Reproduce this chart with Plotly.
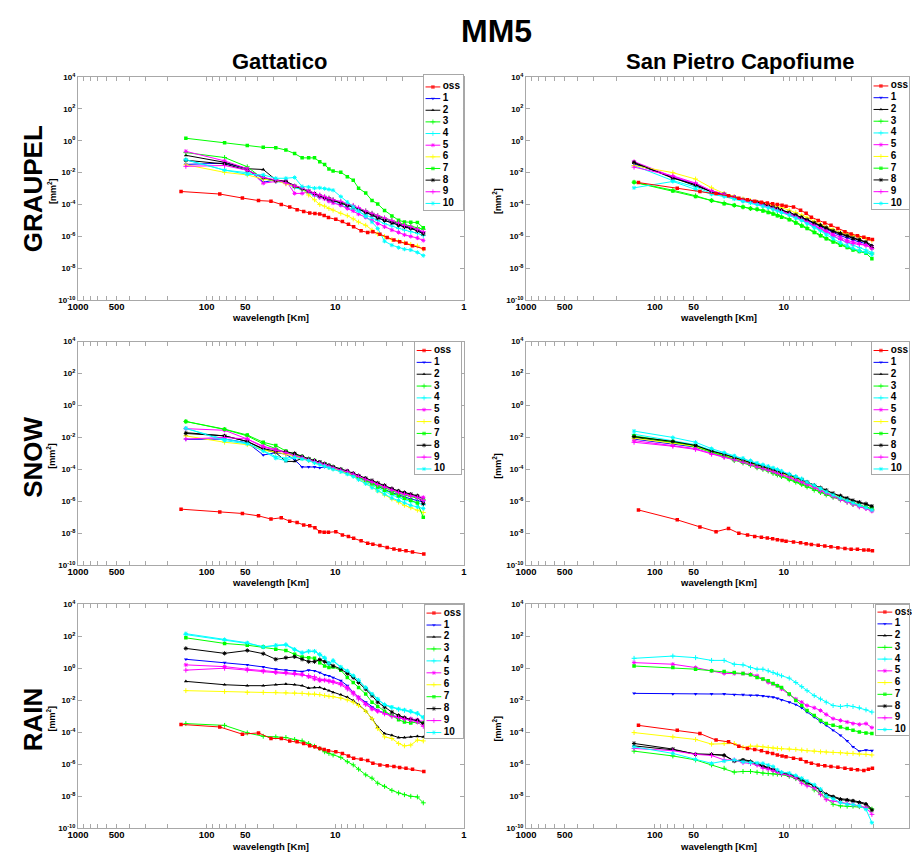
import plotly.graph_objects as go

# ---------------------------------------------------------------- series style
SERIES = ["oss", "1", "2", "3", "4", "5", "6", "7", "8", "9", "10"]
COLORS = ["#ff0000", "#0000ff", "#000000", "#00ff00", "#00ffff", "#ff00ff",
          "#ffff00", "#00ff00", "#000000", "#ff00ff", "#00ffff"]
SYMBOLS = ["square", "triangle-down", "triangle-up", "cross-thin-open", "cross-thin-open",
           "asterisk-open", "cross-thin-open", "square", "asterisk-open", "cross-thin-open",
           "asterisk-open"]

# ---------------------------------------------------------------- wavelengths [km]
WL_MODEL = [145, 72.5, 48.3, 36.3, 29.0, 24.2, 20.7, 18.1, 16.1, 14.5, 13.2, 12.1, 11.2, 10.4,
            9.06, 8.06, 7.25, 6.59, 5.80, 5.18, 4.68, 4.14, 3.63, 3.22, 2.90, 2.59, 2.30, 2.07]
WL_OSS_GATTATICO = [158, 79, 52.7, 39.5, 31.6, 26.3, 22.6, 19.8, 17.6, 15.8, 14.4, 13.2, 12.2, 11.3,
                    9.9, 8.8, 7.9, 7.2, 6.3, 5.6, 5.1, 4.5, 3.95, 3.5, 3.16, 2.82, 2.51, 2.05]
WL_OSS_SANPIETRO = [134, 67, 44.7, 33.5, 26.8, 22.3, 19.1, 16.8, 14.9, 13.4, 12.2, 11.2, 10.3, 9.6,
                    8.4, 7.4, 6.7, 6.1, 5.4, 4.8, 4.3, 3.8, 3.35, 3.0, 2.68, 2.39, 2.2, 2.05]

# ---------------------------------------------------------------- log10 power [mm^2]
GRAUPEL_GATTATICO = {
    "oss": [-3.18, -3.34, -3.59, -3.75, -3.79, -4.00, -4.16, -4.33, -4.43, -4.53, -4.56, -4.60, -4.68, -4.82,
            -4.93, -5.07, -5.24, -5.40, -5.65, -5.75, -5.71, -5.86, -6.06, -6.23, -6.33, -6.43, -6.58, -6.78],
    "1": [-1.48, -1.40, -1.75, -2.60, -2.45, -2.60, -2.90, -3.05, -3.25, -3.40, -3.50, -3.60, -3.70, -3.75,
          -3.90, -4.05, -4.15, -4.30, -4.50, -4.65, -4.85, -5.00, -5.15, -5.30, -5.40, -5.50, -5.60, -5.80],
    "2": [-0.91, -1.35, -1.75, -1.80, -2.45, -2.55, -2.80, -3.00, -3.20, -3.35, -3.45, -3.55, -3.65, -3.75,
          -3.85, -4.00, -4.10, -4.25, -4.45, -4.60, -4.75, -4.90, -5.05, -5.20, -5.30, -5.45, -5.55, -5.75],
    "3": [-0.74, -1.05, -1.63, -2.40, -2.50, -2.60, -2.85, -3.05, -3.20, -3.35, -3.45, -3.55, -3.60, -3.70,
          -3.85, -4.00, -4.10, -4.25, -4.40, -4.55, -4.70, -4.85, -5.00, -5.15, -5.25, -5.35, -5.45, -5.55],
    "4": [-1.20, -1.84, -2.00, -2.30, -2.55, -2.65, -2.95, -3.05, -3.30, -3.45, -3.55, -3.60, -3.75, -3.85,
          -4.00, -4.15, -4.30, -4.45, -4.65, -4.85, -5.00, -5.20, -5.35, -5.50, -5.60, -5.70, -5.80, -5.95],
    "5": [-0.66, -1.26, -1.75, -2.66, -2.55, -2.50, -3.30, -3.30, -3.20, -3.40, -3.55, -3.65, -3.80, -3.90,
          -4.05, -4.25, -4.40, -4.60, -4.80, -5.00, -5.20, -5.40, -5.60, -5.75, -5.90, -6.00, -6.10, -6.25],
    "6": [-1.50, -1.98, -2.14, -2.40, -2.50, -2.70, -2.90, -3.00, -3.40, -3.70, -4.00, -4.10, -4.25, -4.35,
          -4.55, -4.70, -4.90, -5.10, -5.30, -5.60, -5.85, -6.00, -6.20, -6.30, -6.40, -6.50, -6.60, -6.80],
    "7": [0.16, -0.12, -0.29, -0.41, -0.43, -0.58, -0.80, -1.07, -1.07, -1.07, -1.32, -1.48, -1.77, -1.90,
          -1.98, -2.25, -2.47, -2.97, -3.28, -3.75, -3.96, -4.37, -4.72, -4.99, -5.09, -5.11, -5.13, -5.45],
    "8": [-1.22, -1.45, -1.85, -2.30, -2.50, -2.55, -2.85, -3.00, -3.15, -3.30, -3.45, -3.55, -3.65, -3.75,
          -3.90, -4.05, -4.15, -4.30, -4.50, -4.65, -4.85, -5.00, -5.15, -5.30, -5.40, -5.50, -5.65, -5.85],
    "9": [-1.60, -1.55, -1.85, -2.30, -2.45, -2.65, -2.85, -2.95, -3.15, -3.30, -3.40, -3.50, -3.60, -3.70,
          -3.80, -3.95, -4.05, -4.20, -4.40, -4.55, -4.70, -4.85, -5.00, -5.15, -5.30, -5.40, -5.55, -5.70],
    "10": [-1.18, -1.84, -2.10, -2.14, -2.35, -2.35, -2.30, -2.87, -2.90, -2.97, -2.95, -3.00, -3.05, -3.10,
           -3.50, -3.85, -4.15, -4.40, -4.75, -5.10, -5.50, -6.30, -6.55, -6.70, -6.80, -6.85, -7.00, -7.20],
}

GRAUPEL_SANPIETRO = {
    "oss": [-2.62, -2.97, -3.18, -3.30, -3.45, -3.60, -3.70, -3.80, -3.85, -3.90, -3.95, -4.00, -4.05, -4.10,
            -4.15, -4.35, -4.55, -4.80, -5.00, -5.15, -5.30, -5.50, -5.70, -5.85, -5.95, -6.05, -6.15, -6.20],
    "1": [-1.45, -2.30, -2.75, -3.20, -3.40, -3.55, -3.70, -3.80, -3.90, -4.00, -4.10, -4.20, -4.30, -4.40,
          -4.55, -4.70, -4.85, -5.00, -5.20, -5.40, -5.55, -5.75, -5.95, -6.10, -6.25, -6.35, -6.45, -6.60],
    "2": [-1.40, -2.30, -2.80, -3.20, -3.35, -3.55, -3.70, -3.80, -3.85, -3.95, -4.05, -4.15, -4.25, -4.35,
          -4.50, -4.65, -4.80, -4.95, -5.15, -5.35, -5.50, -5.70, -5.85, -6.00, -6.15, -6.25, -6.35, -6.55],
    "3": [-2.60, -3.10, -3.45, -3.75, -3.90, -4.05, -4.15, -4.25, -4.30, -4.35, -4.45, -4.55, -4.65, -4.75,
          -4.90, -5.10, -5.30, -5.45, -5.70, -5.90, -6.10, -6.30, -6.50, -6.65, -6.80, -6.90, -7.00, -7.10],
    "4": [-1.55, -2.50, -2.90, -3.30, -3.45, -3.60, -3.75, -3.85, -3.95, -4.05, -4.15, -4.25, -4.35, -4.45,
          -4.60, -4.80, -4.95, -5.15, -5.40, -5.60, -5.80, -6.00, -6.20, -6.40, -6.55, -6.70, -6.85, -7.00],
    "5": [-1.30, -2.25, -2.70, -3.15, -3.35, -3.50, -3.70, -3.80, -3.90, -4.00, -4.10, -4.20, -4.30, -4.40,
          -4.55, -4.70, -4.90, -5.05, -5.30, -5.50, -5.65, -5.85, -6.05, -6.25, -6.35, -6.45, -6.55, -6.70],
    "6": [-1.55, -2.00, -2.40, -2.95, -3.30, -3.50, -3.65, -3.75, -3.85, -3.95, -4.00, -4.05, -4.15, -4.20,
          -4.35, -4.50, -4.65, -4.80, -5.05, -5.25, -5.40, -5.55, -5.75, -5.85, -5.95, -6.05, -6.15, -6.25],
    "7": [-2.60, -3.15, -3.50, -3.75, -3.95, -4.05, -4.15, -4.25, -4.30, -4.40, -4.50, -4.60, -4.70, -4.80,
          -4.95, -5.15, -5.35, -5.50, -5.75, -5.95, -6.15, -6.35, -6.55, -6.70, -6.85, -6.95, -7.05, -7.40],
    "8": [-1.35, -2.35, -2.75, -3.20, -3.35, -3.55, -3.70, -3.80, -3.85, -3.95, -4.05, -4.15, -4.25, -4.35,
          -4.50, -4.65, -4.80, -4.95, -5.15, -5.30, -5.45, -5.65, -5.80, -5.95, -6.10, -6.20, -6.35, -6.70],
    "9": [-1.65, -2.20, -2.65, -3.15, -3.35, -3.55, -3.75, -3.85, -3.95, -4.05, -4.15, -4.25, -4.35, -4.45,
          -4.60, -4.80, -4.95, -5.10, -5.35, -5.55, -5.70, -5.95, -6.20, -6.35, -6.45, -6.50, -6.55, -6.75],
    "10": [-2.95, -2.55, -3.05, -3.35, -3.50, -3.65, -3.80, -3.90, -4.00, -4.10, -4.20, -4.30, -4.40, -4.50,
           -4.65, -4.85, -5.00, -5.20, -5.45, -5.65, -5.90, -6.15, -6.40, -6.60, -6.75, -6.90, -7.00, -7.15],
}

SNOW_GATTATICO = {
    "oss": [-6.49, -6.66, -6.76, -6.91, -7.11, -7.03, -7.24, -7.32, -7.48, -7.53, -7.65, -7.90, -7.94, -7.94,
            -7.90, -8.10, -8.20, -8.31, -8.47, -8.62, -8.68, -8.76, -8.89, -8.99, -9.05, -9.10, -9.18, -9.30],
    "1": [-2.12, -2.10, -2.33, -3.10, -2.95, -3.05, -3.40, -3.85, -3.85, -3.85, -3.90, -3.85, -3.90, -3.95,
          -4.10, -4.25, -4.35, -4.50, -4.70, -4.90, -5.05, -5.25, -5.45, -5.60, -5.75, -5.85, -5.95, -6.05],
    "2": [-1.70, -1.90, -2.25, -2.75, -2.95, -3.50, -3.50, -3.30, -3.35, -3.50, -3.60, -3.70, -3.80, -3.90,
          -4.05, -4.20, -4.30, -4.45, -4.60, -4.75, -4.90, -5.05, -5.25, -5.40, -5.50, -5.60, -5.70, -5.80],
    "3": [-1.00, -1.50, -1.90, -2.40, -2.70, -2.95, -3.10, -3.20, -3.35, -3.50, -3.60, -3.70, -3.80, -3.85,
          -4.00, -4.15, -4.30, -4.45, -4.65, -4.85, -5.00, -5.15, -5.35, -5.50, -5.60, -5.70, -5.80, -5.90],
    "4": [-1.45, -2.10, -2.35, -2.80, -3.20, -3.30, -3.20, -3.30, -3.40, -3.55, -3.65, -3.75, -3.85, -3.95,
          -4.10, -4.25, -4.40, -4.55, -4.80, -5.00, -5.20, -5.40, -5.60, -5.75, -5.90, -6.00, -6.10, -6.20],
    "5": [-1.45, -1.55, -2.10, -2.55, -2.75, -2.90, -3.05, -3.20, -3.35, -3.45, -3.55, -3.65, -3.75, -3.85,
          -4.00, -4.10, -4.25, -4.40, -4.60, -4.75, -4.90, -5.05, -5.25, -5.40, -5.50, -5.60, -5.70, -5.75],
    "6": [-1.90, -2.30, -2.45, -2.80, -2.90, -3.05, -3.20, -3.30, -3.45, -3.55, -3.65, -3.75, -3.85, -3.95,
          -4.10, -4.25, -4.40, -4.60, -4.85, -5.10, -5.35, -5.60, -5.85, -6.05, -6.25, -6.40, -6.55, -6.70],
    "7": [-1.00, -1.48, -1.85, -2.30, -2.50, -2.85, -3.05, -3.20, -3.35, -3.45, -3.55, -3.65, -3.75, -3.85,
          -4.00, -4.15, -4.30, -4.50, -4.70, -4.90, -5.10, -5.30, -5.50, -5.65, -5.80, -5.95, -6.10, -7.00],
    "8": [-1.75, -1.90, -2.25, -2.70, -2.85, -2.90, -3.00, -3.20, -3.35, -3.45, -3.55, -3.65, -3.75, -3.85,
          -4.00, -4.10, -4.25, -4.40, -4.55, -4.70, -4.85, -5.00, -5.20, -5.35, -5.45, -5.55, -5.65, -6.15],
    "9": [-2.10, -2.00, -2.10, -2.60, -2.80, -2.95, -3.15, -3.25, -3.40, -3.50, -3.60, -3.70, -3.80, -3.90,
          -4.05, -4.15, -4.30, -4.45, -4.65, -4.80, -4.95, -5.10, -5.30, -5.45, -5.55, -5.65, -5.75, -5.95],
    "10": [-1.42, -2.20, -2.40, -2.85, -3.30, -3.45, -3.25, -3.35, -3.45, -3.60, -3.70, -3.80, -3.90, -4.00,
           -4.15, -4.30, -4.45, -4.65, -4.90, -5.15, -5.35, -5.55, -5.80, -5.95, -6.10, -6.25, -6.35, -6.45],
}

SNOW_SANPIETRO = {
    "oss": [-6.54, -7.16, -7.60, -7.90, -7.70, -8.00, -8.10, -8.20, -8.25, -8.30, -8.35, -8.40, -8.45, -8.50,
            -8.55, -8.60, -8.65, -8.70, -8.75, -8.80, -8.85, -8.90, -8.95, -9.00, -9.00, -9.05, -9.05, -9.10],
    "1": [-2.10, -2.40, -2.60, -2.90, -3.10, -3.30, -3.45, -3.60, -3.75, -3.85, -3.95, -4.05, -4.15, -4.25,
          -4.40, -4.55, -4.70, -4.85, -5.05, -5.25, -5.40, -5.60, -5.80, -5.95, -6.10, -6.25, -6.40, -6.50],
    "2": [-2.00, -2.30, -2.55, -2.85, -3.05, -3.25, -3.40, -3.55, -3.70, -3.80, -3.90, -4.00, -4.10, -4.20,
          -4.35, -4.50, -4.65, -4.80, -5.00, -5.20, -5.35, -5.55, -5.70, -5.85, -6.00, -6.10, -6.20, -6.35],
    "3": [-1.95, -2.30, -2.60, -2.95, -3.20, -3.45, -3.60, -3.75, -3.90, -4.00, -4.10, -4.25, -4.35, -4.45,
          -4.65, -4.80, -4.95, -5.10, -5.30, -5.45, -5.60, -5.75, -5.90, -6.05, -6.20, -6.30, -6.40, -6.50],
    "4": [-1.80, -2.20, -2.45, -2.80, -3.00, -3.20, -3.35, -3.50, -3.65, -3.75, -3.85, -3.95, -4.05, -4.15,
          -4.30, -4.45, -4.60, -4.80, -5.00, -5.20, -5.40, -5.60, -5.80, -5.95, -6.10, -6.25, -6.40, -6.55],
    "5": [-2.20, -2.50, -2.70, -3.00, -3.20, -3.35, -3.50, -3.65, -3.80, -3.90, -4.00, -4.10, -4.20, -4.30,
          -4.45, -4.60, -4.75, -4.90, -5.10, -5.30, -5.45, -5.65, -5.85, -6.00, -6.15, -6.30, -6.45, -6.60],
    "6": [-2.05, -2.35, -2.55, -2.90, -3.10, -3.30, -3.45, -3.60, -3.75, -3.85, -3.95, -4.05, -4.15, -4.25,
          -4.40, -4.55, -4.70, -4.85, -5.05, -5.25, -5.40, -5.60, -5.80, -5.95, -6.10, -6.25, -6.40, -6.55],
    "7": [-1.90, -2.25, -2.50, -2.90, -3.15, -3.40, -3.55, -3.70, -3.85, -3.95, -4.05, -4.20, -4.30, -4.40,
          -4.60, -4.75, -4.90, -5.05, -5.25, -5.40, -5.55, -5.70, -5.85, -6.00, -6.15, -6.25, -6.35, -6.45],
    "8": [-1.95, -2.25, -2.50, -2.85, -3.05, -3.25, -3.40, -3.55, -3.70, -3.80, -3.90, -4.00, -4.10, -4.20,
          -4.35, -4.50, -4.65, -4.80, -5.00, -5.15, -5.30, -5.50, -5.65, -5.80, -5.95, -6.05, -6.15, -6.30],
    "9": [-2.30, -2.55, -2.75, -3.05, -3.25, -3.40, -3.55, -3.70, -3.85, -3.95, -4.05, -4.15, -4.25, -4.35,
          -4.50, -4.65, -4.80, -4.95, -5.15, -5.35, -5.50, -5.70, -5.90, -6.05, -6.20, -6.35, -6.45, -6.60],
    "10": [-1.60, -2.00, -2.30, -2.70, -2.95, -3.15, -3.30, -3.45, -3.60, -3.70, -3.80, -3.90, -4.00, -4.10,
           -4.30, -4.45, -4.60, -4.80, -5.00, -5.20, -5.40, -5.60, -5.80, -5.95, -6.10, -6.25, -6.40, -6.55],
}

RAIN_GATTATICO = {
    "oss": [-3.51, -3.67, -4.12, -4.04, -4.39, -4.39, -4.54, -4.60, -4.70, -4.85, -4.91, -5.01, -5.07, -5.15,
            -5.22, -5.32, -5.48, -5.63, -5.69, -5.77, -5.94, -6.04, -6.10, -6.14, -6.20, -6.25, -6.31, -6.45],
    "1": [0.56, 0.35, 0.21, 0.08, -0.06, -0.12, -0.16, -0.21, -0.12, -0.16, -0.27, -0.41, -0.47, -0.58,
          -0.78, -1.09, -1.51, -1.81, -2.12, -2.43, -2.64, -2.80, -2.95, -3.09, -3.15, -3.22, -3.26, -3.42],
    "2": [-0.82, -1.03, -1.09, -1.09, -1.03, -0.99, -1.03, -1.09, -1.24, -1.20, -1.20, -1.30, -1.40, -1.51,
          -1.65, -1.81, -2.02, -2.27, -2.68, -3.15, -3.67, -4.08, -4.19, -4.33, -4.33, -4.29, -4.25, -4.29],
    "3": [-3.46, -3.57, -4.04, -4.25, -4.29, -4.33, -4.45, -4.54, -4.70, -4.87, -5.01, -5.22, -5.32, -5.42,
          -5.57, -5.84, -6.04, -6.31, -6.66, -6.87, -7.18, -7.38, -7.63, -7.79, -7.90, -8.00, -8.04, -8.41],
    "4": [2.10, 1.75, 1.55, 1.35, 1.40, 1.45, 1.15, 0.95, 1.05, 1.05, 0.85, 0.62, 0.30, 0.45,
          0.05, -0.20, -0.50, -0.78, -1.25, -1.65, -1.95, -2.30, -2.45, -2.57, -2.64, -2.72, -2.85, -3.10],
    "5": [0.21, 0.10, -0.06, -0.16, -0.25, -0.27, -0.33, -0.37, -0.54, -0.68, -0.78, -0.74, -0.78, -0.82,
          -0.95, -1.20, -1.51, -1.81, -2.23, -2.54, -2.68, -2.80, -2.95, -3.05, -3.11, -3.15, -3.22, -3.36],
    "6": [-1.40, -1.46, -1.51, -1.51, -1.51, -1.53, -1.55, -1.57, -1.61, -1.61, -1.65, -1.71, -1.75, -1.77,
          -1.86, -1.98, -2.12, -2.33, -2.68, -3.15, -3.77, -4.29, -4.39, -4.70, -4.85, -4.80, -4.49, -4.54],
    "7": [1.90, 1.55, 1.44, 1.32, 1.18, 1.11, 0.87, 0.70, 0.66, 0.62, 0.35, 0.14, 0.04, 0.08,
          -0.12, -0.58, -0.89, -1.20, -1.61, -2.12, -2.39, -2.68, -2.95, -3.22, -3.36, -3.42, -3.36, -3.42],
    "8": [1.24, 0.93, 1.11, 0.91, 0.56, 0.66, 0.72, 0.56, 0.41, 0.41, 0.54, 0.41, 0.29, 0.14,
          -0.06, -0.33, -0.58, -0.89, -1.30, -1.71, -2.12, -2.43, -2.74, -2.95, -3.09, -3.22, -3.26, -3.46],
    "9": [-0.12, 0.00, -0.12, -0.21, -0.27, -0.31, -0.37, -0.41, -0.47, -0.54, -0.68, -0.74, -0.82, -0.89,
          -1.03, -1.30, -1.61, -1.92, -2.27, -2.54, -2.68, -2.85, -3.01, -3.09, -3.18, -3.26, -3.36, -3.63],
    "10": [2.16, 1.79, 1.59, 1.32, 1.44, 1.48, 1.18, 0.97, 1.07, 1.07, 0.87, 0.66, 0.29, 0.49,
           0.08, -0.16, -0.47, -0.74, -1.20, -1.61, -1.92, -2.27, -2.43, -2.54, -2.60, -2.68, -2.80, -3.05],
}

RAIN_SANPIETRO = {
    "oss": [-3.57, -3.88, -4.08, -4.49, -4.60, -4.87, -5.01, -5.07, -5.15, -5.26, -5.32, -5.42, -5.48, -5.53,
            -5.63, -5.69, -5.84, -5.94, -6.04, -6.10, -6.14, -6.19, -6.25, -6.31, -6.35, -6.39, -6.31, -6.25],
    "1": [-1.57, -1.61, -1.61, -1.61, -1.61, -1.65, -1.65, -1.69, -1.69, -1.73, -1.77, -1.81, -1.88, -1.98,
          -2.12, -2.27, -2.47, -2.74, -3.05, -3.36, -3.57, -3.88, -4.19, -4.54, -4.91, -5.18, -5.11, -5.15],
    "2": [-4.85, -5.10, -5.35, -5.40, -5.42, -5.80, -5.70, -5.80, -5.95, -6.10, -6.20, -6.30, -6.40, -6.50,
          -6.60, -6.75, -6.95, -7.10, -7.35, -7.60, -7.85, -8.00, -8.15, -8.20, -8.25, -8.35, -8.45, -8.80],
    "3": [-5.18, -5.48, -5.73, -6.04, -6.25, -6.49, -6.45, -6.45, -6.50, -6.56, -6.58, -6.60, -6.62, -6.65,
          -6.75, -6.90, -7.05, -7.25, -7.60, -7.85, -8.10, -8.50, -8.60, -8.62, -8.62, -8.65, -8.70, -8.80],
    "4": [0.62, 0.76, 0.66, 0.49, 0.49, 0.25, 0.21, 0.04, -0.06, -0.06, -0.16, -0.27, -0.37, -0.47,
          -0.62, -0.89, -1.15, -1.40, -1.71, -1.92, -2.12, -2.33, -2.39, -2.33, -2.39, -2.47, -2.60, -2.74],
    "5": [0.35, 0.25, 0.04, -0.16, -0.33, -0.33, -0.33, -0.37, -0.47, -0.68, -0.89, -0.99, -1.09, -1.30,
          -1.65, -1.92, -2.12, -2.33, -2.47, -2.64, -2.89, -3.15, -3.26, -3.36, -3.46, -3.51, -3.46, -3.71],
    "6": [-4.02, -4.29, -4.45, -4.74, -4.70, -4.70, -4.95, -4.87, -4.87, -4.91, -4.95, -4.99, -5.01, -5.03,
          -5.05, -5.07, -5.11, -5.15, -5.18, -5.22, -5.24, -5.26, -5.28, -5.32, -5.32, -5.36, -5.38, -5.42],
    "7": [0.14, 0.04, -0.06, -0.16, -0.21, -0.27, -0.33, -0.41, -0.58, -0.68, -0.78, -0.95, -1.09, -1.20,
          -1.61, -2.02, -2.33, -2.64, -2.95, -3.26, -3.46, -3.57, -3.67, -3.77, -3.88, -3.98, -4.04, -4.08],
    "8": [-4.70, -5.05, -5.38, -5.38, -5.45, -5.80, -5.75, -5.85, -6.00, -6.14, -6.25, -6.35, -6.45, -6.56,
          -6.66, -6.80, -6.97, -7.15, -7.38, -7.65, -7.90, -8.04, -8.21, -8.25, -8.31, -8.40, -8.52, -8.87],
    "9": [-5.01, -5.15, -5.38, -5.45, -5.73, -5.73, -5.90, -5.95, -6.05, -6.25, -6.30, -6.40, -6.50, -6.60,
          -6.70, -6.85, -7.18, -7.35, -7.48, -7.90, -8.21, -8.30, -8.40, -8.45, -8.52, -8.60, -8.70, -9.13],
    "10": [-4.91, -5.32, -5.69, -5.94, -5.80, -5.73, -5.85, -5.90, -5.92, -5.94, -6.05, -6.14, -6.35, -6.50,
           -6.55, -6.70, -6.87, -7.05, -7.28, -7.55, -7.98, -8.15, -8.40, -8.50, -8.52, -8.60, -8.82, -9.65],
}

# ---------------------------------------------------------------- page geometry (px)
W, H = 912, 856
COL_X = [(68, 460), (523, 912)]
COL_XRANGE = [[3, 0.0], [3, 0.028]]
ROW_Y = [(72, 298), (340, 566.5), (606, 833)]

# legend boxes: left, right, top, bottom, first entry y, last entry y
LEGEND_BOX = {
    (0, 0): (419, 459, 70, 207, 82, 200),
    (0, 1): (874, 912, 72, 206, 81, 200),
    (1, 0): (410, 457, 340, 474, 349, 469),
    (1, 1): (874, 912, 340, 474, 349, 469),
    (2, 0): (420, 459, 607, 742, 615, 736),
    (2, 1): (878, 912, 607, 738, 614, 733),
}

PANELS = [
    (0, 0, GRAUPEL_GATTATICO, WL_OSS_GATTATICO),
    (0, 1, GRAUPEL_SANPIETRO, WL_OSS_SANPIETRO),
    (1, 0, SNOW_GATTATICO, WL_OSS_GATTATICO),
    (1, 1, SNOW_SANPIETRO, WL_OSS_SANPIETRO),
    (2, 0, RAIN_GATTATICO, WL_OSS_GATTATICO),
    (2, 1, RAIN_SANPIETRO, WL_OSS_SANPIETRO),
]

FONT = "Liberation Sans, Arial, sans-serif"
AXIS_GREY = "#a8a8a8"


def px_x(x):
    return x / W


def px_y(y):
    return 1 - y / H


X_MAJOR = [1000, 500, 100, 50, 10, 1]
X_MINOR = [900, 800, 700, 600, 400, 300, 200, 90, 80, 70, 60, 40, 30, 20,
           9, 8, 7, 6, 4, 3, 2]
Y_TICKS = [1e4, 1e2, 1, 1e-2, 1e-4, 1e-6, 1e-8, 1e-10]
Y_TEXT = ["<b>10<sup>%d</sup></b>" % p for p in (4, 2, 0, -2, -4, -6, -8, -10)]


def marker_style(i, size):
    sym = SYMBOLS[i]
    m = dict(symbol=sym, color=COLORS[i], size=size)
    if sym.endswith("open"):
        m["line"] = dict(color=COLORS[i], width=1)
    else:
        m["line"] = dict(width=0)
    return m


fig = go.Figure()
layout = dict(
    width=W, height=H, margin=dict(l=0, r=0, t=0, b=0),
    paper_bgcolor="white", plot_bgcolor="white", showlegend=False,
    font=dict(family=FONT, color="black"),
)
annotations = []

for n, (row, col, data, wl_oss) in enumerate(PANELS):
    ax = n + 1
    xname = "xaxis" if ax == 1 else "xaxis%d" % ax
    yname = "yaxis" if ax == 1 else "yaxis%d" % ax
    xref = "x" if ax == 1 else "x%d" % ax
    yref = "y" if ax == 1 else "y%d" % ax
    x0, x1 = COL_X[col]
    y0, y1 = ROW_Y[row]

    layout[xname] = dict(
        type="log", domain=[px_x(x0), px_x(x1)], range=COL_XRANGE[col], anchor=yref,
        tickvals=X_MAJOR, ticktext=["<b>%d</b>" % v for v in X_MAJOR],
        ticks="inside", ticklen=4, tickcolor=AXIS_GREY, showline=True, linecolor=AXIS_GREY,
        linewidth=1, mirror="allticks", showgrid=False, zeroline=False,
        minor=dict(tickvals=X_MINOR, ticks="inside", ticklen=4, tickcolor=AXIS_GREY, showgrid=False),
        tickfont=dict(size=9.5, family=FONT), tickangle=0, ticklabelstandoff=-3,
    )
    layout[yname] = dict(
        type="log", domain=[px_y(y1), px_y(y0)], range=[-10, 4], anchor=xref,
        tickvals=Y_TICKS, ticktext=Y_TEXT,
        ticks="inside", ticklen=4, tickcolor=AXIS_GREY, showline=True, linecolor=AXIS_GREY,
        linewidth=1, mirror="allticks", showgrid=False, zeroline=False,
        tickfont=dict(size=8, family=FONT),
    )

    # spectra: models first, observations on top
    order = list(range(1, len(SERIES))) + [0]
    for i in order:
        name = SERIES[i]
        wl = wl_oss if name == "oss" else WL_MODEL
        vals = data[name]
        fig.add_trace(go.Scatter(
            x=wl, y=[10 ** v for v in vals], mode="lines+markers", name=name,
            xaxis=xref, yaxis=yref,
            line=dict(color=COLORS[i], width=1),
            marker=marker_style(i, 3.5),
            cliponaxis=True,
        ))

    # legend drawn as its own small subplot
    lx0, lx1, ly0, ly1, e0, e1 = LEGEND_BOX[(row, col)]
    lax = n + 7
    lxname, lyname = "xaxis%d" % lax, "yaxis%d" % lax
    lxref, lyref = "x%d" % lax, "y%d" % lax
    step = (e1 - e0) / (len(SERIES) - 1)
    top = -(e0 - ly0) / step
    bottom = (len(SERIES) - 1) + (ly1 - e1) / step
    layout[lxname] = dict(
        domain=[px_x(lx0), px_x(lx1)], range=[0, lx1 - lx0], anchor=lyref,
        showline=True, mirror=True, linecolor=AXIS_GREY, linewidth=1,
        tickmode="array", tickvals=[], showticklabels=False, ticks="",
        showgrid=False, zeroline=False, fixedrange=True,
    )
    layout[lyname] = dict(
        domain=[px_y(ly1), px_y(ly0)], range=[bottom, top], anchor=lxref,
        showline=True, mirror=True, linecolor=AXIS_GREY, linewidth=1,
        tickmode="array", tickvals=[], showticklabels=False, ticks="",
        showgrid=False, zeroline=False, fixedrange=True,
    )
    for i, name in enumerate(SERIES):
        ms = marker_style(i, 3.5)
        ms["size"] = [0, ms["size"], 0]
        fig.add_trace(go.Scatter(
            x=[2, 9.5, 17], y=[i, i, i], mode="lines+markers",
            xaxis=lxref, yaxis=lyref, hoverinfo="skip",
            line=dict(color=COLORS[i], width=1), marker=ms,
        ))
    fig.add_trace(go.Scatter(
        x=[19.5] * len(SERIES), y=list(range(len(SERIES))), mode="text",
        text=["<b>%s</b>" % s for s in SERIES], textposition="middle right",
        textfont=dict(size=10, family=FONT, color="black"),
        xaxis=lxref, yaxis=lyref, hoverinfo="skip", cliponaxis=False,
    ))

    # axis titles
    annotations.append(dict(
        text="<b>wavelength [Km]</b>", x=px_x(x0 + 196), y=px_y(y1 + 18),
        xref="paper", yref="paper", showarrow=False, xanchor="center", yanchor="middle",
        font=dict(size=9.5, family=FONT),
    ))
    ylab_x = 41 if col == 0 else 494
    annotations.append(dict(
        text="<b>[mm<sup>2</sup>]</b>", x=px_x(ylab_x), y=px_y((y0 + y1) / 2 + (2 if col == 0 else 12)),
        xref="paper", yref="paper", showarrow=False, textangle=-90,
        xanchor="center", yanchor="middle", font=dict(size=9, family=FONT),
    ))

# titles
annotations.append(dict(text="<b>MM5</b>", x=px_x(493), y=px_y(25), xref="paper", yref="paper",
                        showarrow=False, xanchor="center", yanchor="middle",
                        font=dict(size=32, family=FONT)))
for label, cx in (("Gattatico", 273), ("San Pietro Capofiume", 741)):
    annotations.append(dict(text="<b>%s</b>" % label, x=px_x(cx), y=px_y(56), xref="paper",
                            yref="paper", showarrow=False, xanchor="center", yanchor="middle",
                            font=dict(size=22, family=FONT)))
for label, cy in (("GRAUPEL", 185), ("SNOW", 457), ("RAIN", 723)):
    annotations.append(dict(text="<b>%s</b>" % label, x=px_x(22), y=px_y(cy), xref="paper",
                            yref="paper", showarrow=False, textangle=-90, xanchor="center",
                            yanchor="middle", font=dict(size=26, family=FONT)))

layout["annotations"] = annotations
fig.update_layout(**layout)
fig.write_html("out.html")
